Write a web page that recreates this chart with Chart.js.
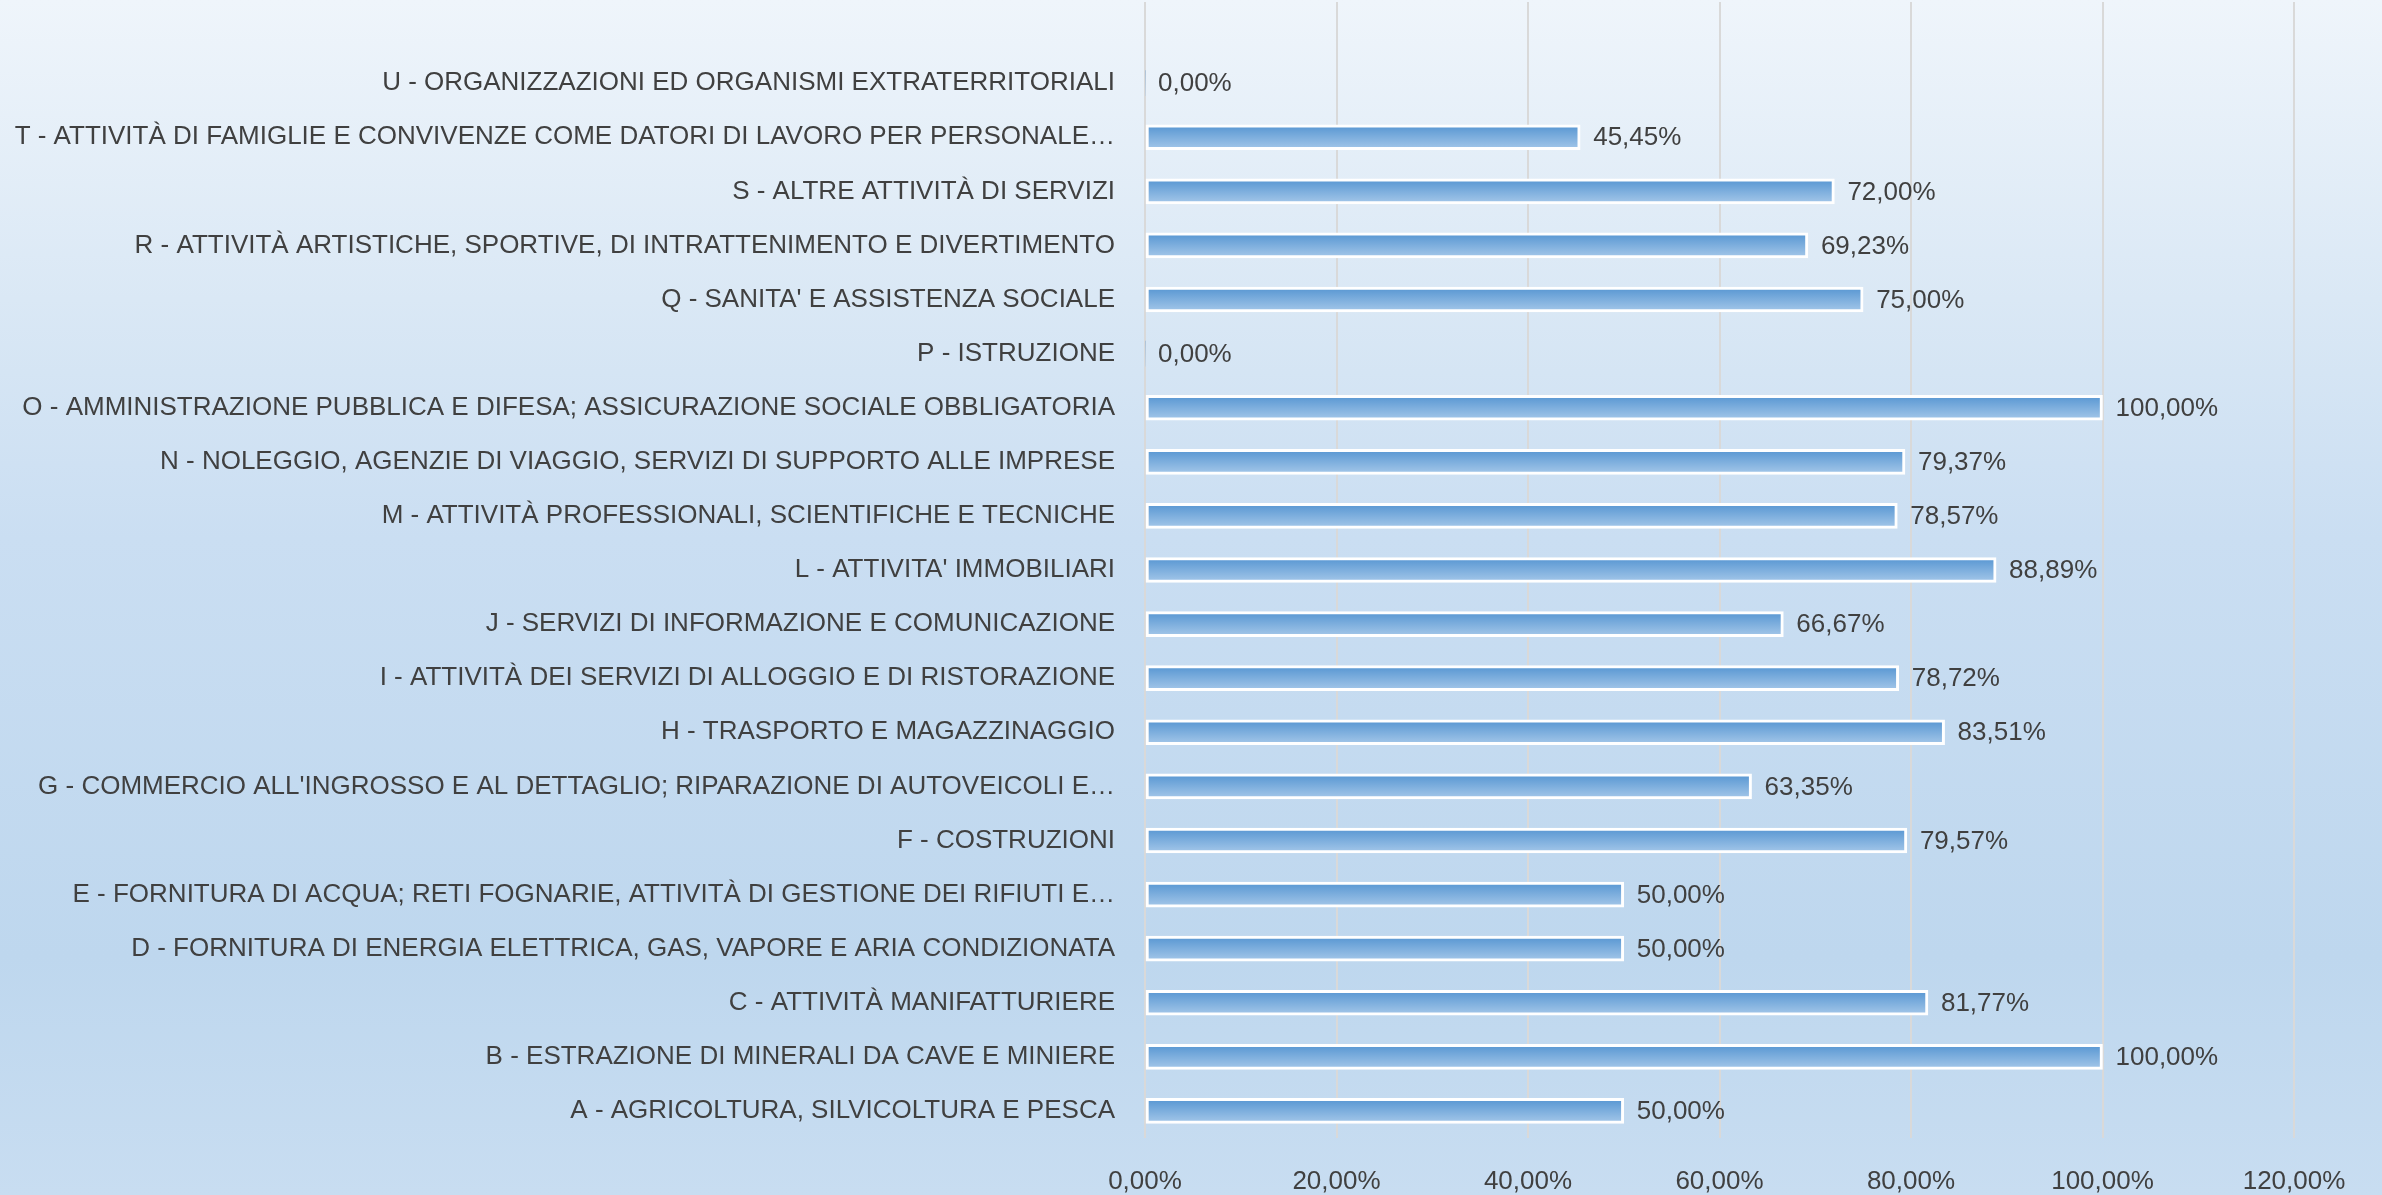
<!DOCTYPE html>
<html>
<head>
<meta charset="utf-8">
<script src="https://cdn.jsdelivr.net/npm/chart.js@4"></script>
<style>
  html, body { margin: 0; padding: 0; }
  body {
    width: 2382px; height: 1195px; overflow: hidden;
    background: linear-gradient(to bottom, #eff5fb 0%, #dae8f5 25%, #cadef2 45%, #bed7ee 80%, #c8ddf1 100%);
  }
  #wrap { position: relative; width: 2382px; height: 1195px; }
</style>
</head>
<body>
<div id="wrap"><canvas id="settori-bar-chart"></canvas></div>
<script>
const categories = [
  "",
  "U - ORGANIZZAZIONI ED ORGANISMI EXTRATERRITORIALI",
  "T - ATTIVITÀ DI FAMIGLIE E CONVIVENZE COME DATORI DI LAVORO PER PERSONALE…",
  "S - ALTRE ATTIVITÀ DI SERVIZI",
  "R - ATTIVITÀ ARTISTICHE, SPORTIVE, DI INTRATTENIMENTO E DIVERTIMENTO",
  "Q - SANITA' E ASSISTENZA SOCIALE",
  "P - ISTRUZIONE",
  "O - AMMINISTRAZIONE PUBBLICA E DIFESA; ASSICURAZIONE SOCIALE OBBLIGATORIA",
  "N - NOLEGGIO, AGENZIE DI VIAGGIO, SERVIZI DI SUPPORTO ALLE IMPRESE",
  "M - ATTIVITÀ PROFESSIONALI, SCIENTIFICHE E TECNICHE",
  "L - ATTIVITA' IMMOBILIARI",
  "J - SERVIZI DI INFORMAZIONE E COMUNICAZIONE",
  "I - ATTIVITÀ DEI SERVIZI DI ALLOGGIO E DI RISTORAZIONE",
  "H - TRASPORTO E MAGAZZINAGGIO",
  "G - COMMERCIO ALL'INGROSSO E AL DETTAGLIO; RIPARAZIONE DI AUTOVEICOLI E…",
  "F - COSTRUZIONI",
  "E - FORNITURA DI ACQUA; RETI FOGNARIE, ATTIVITÀ DI GESTIONE DEI RIFIUTI E…",
  "D - FORNITURA DI ENERGIA ELETTRICA, GAS, VAPORE E ARIA CONDIZIONATA",
  "C - ATTIVITÀ MANIFATTURIERE",
  "B - ESTRAZIONE DI MINERALI DA CAVE E MINIERE",
  "A - AGRICOLTURA, SILVICOLTURA E PESCA"
];
const percentages = [
  null, 0, 45.45, 72.00, 69.23, 75.00, 0, 100.00, 79.37, 78.57,
  88.89, 66.67, 78.72, 83.51, 63.35, 79.57, 50.00, 50.00, 81.77, 100.00, 50.00
];
const xTicks = [0, 20, 40, 60, 80, 100, 120];

const fontFamily = "'Liberation Sans', Arial, sans-serif";
const textColor = '#404040';

function fmtPct(v) {
  return v.toFixed(2).replace('.', ',') + '%';
}

function barGradient(context) {
  const chart = context.chart;
  const yScale = chart.scales.y;
  if (!yScale || context.dataIndex === undefined) return '#6fa5da';
  const cy = yScale.getPixelForValue(context.dataIndex);
  if (!isFinite(cy)) return '#6fa5da';
  const g = chart.ctx.createLinearGradient(0, cy - 12, 0, cy + 12);
  g.addColorStop(0, '#5796d2');
  g.addColorStop(1, '#a4c7e9');
  return g;
}

const valueLabels = {
  id: 'valueLabels',
  afterDatasetsDraw(chart) {
    const ctx = chart.ctx;
    const meta = chart.getDatasetMeta(0);
    ctx.save();
    ctx.font = "26px " + fontFamily;
    ctx.fillStyle = textColor;
    ctx.textBaseline = 'middle';
    ctx.textAlign = 'left';
    meta.data.forEach((bar, i) => {
      const v = percentages[i];
      if (v === null) return;
      ctx.fillText(fmtPct(v), bar.x + 13, bar.y + 1);
    });
    ctx.restore();
  }
};

function initChart() {
  const ctx = document.getElementById("settori-bar-chart");
  const data = {
    labels: categories,
    datasets: [{
      data: percentages,
      backgroundColor: barGradient,
      borderColor: '#ffffff',
      borderWidth: (c) => (percentages[c.dataIndex] ? 3 : 0),
      borderSkipped: false,
      barThickness: 25
    }]
  };
  const config = {
    type: 'bar',
    data: data,
    plugins: [valueLabels],
    options: {
      indexAxis: 'y',
      responsive: true,
      maintainAspectRatio: false,
      animation: false,
      layout: {
        padding: { top: 2, right: 88, left: 0, bottom: 0 }
      },
      plugins: {
        legend: { display: false },
        tooltip: { enabled: false }
      },
      scales: {
        x: {
          min: 0,
          max: 120,
          afterBuildTicks: (axis) => {
            axis.ticks = xTicks.map(v => ({ value: v }));
          },
          afterFit: (axis) => { axis.height = 57; },
          border: { display: false },
          grid: {
            color: '#d9d9d9',
            lineWidth: 2,
            drawTicks: false
          },
          ticks: {
            padding: 28,
            color: textColor,
            font: { family: fontFamily, size: 26 },
            callback: (v) => fmtPct(v)
          }
        },
        y: {
          afterFit: (axis) => {
            axis.width = 1145;
            axis.paddingTop = 0;
            axis.paddingBottom = 0;
          },
          border: { display: false },
          grid: { display: false, drawTicks: false },
          ticks: {
            padding: 30,
            autoSkip: false,
            color: textColor,
            font: { family: fontFamily, size: 26 }
          }
        }
      }
    }
  };
  return new Chart(ctx, config);
}

const barChart = initChart();
</script>
</body>
</html>
